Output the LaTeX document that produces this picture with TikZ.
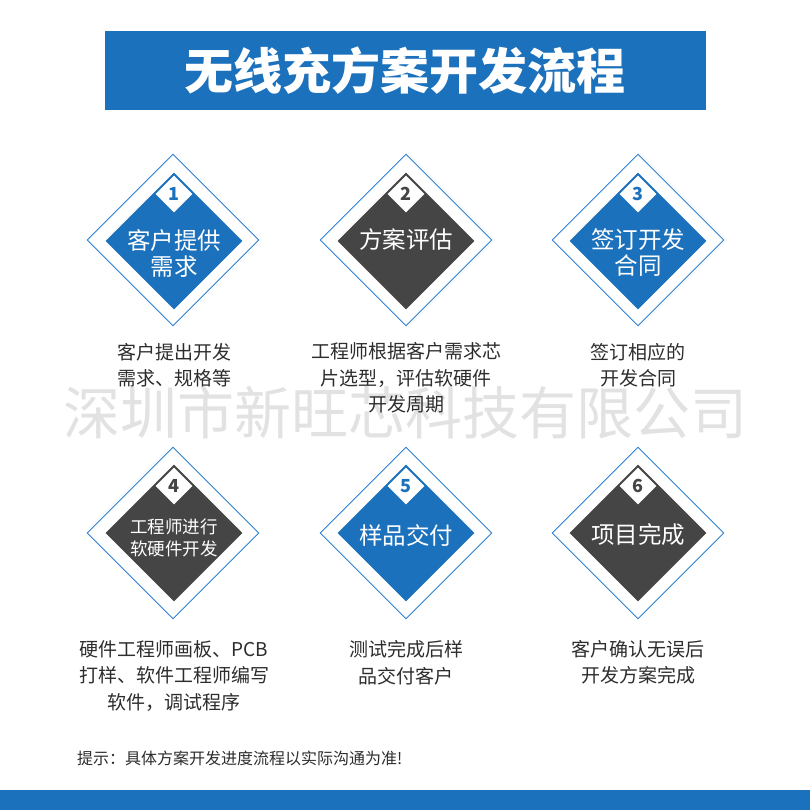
\documentclass[tikz,border=0pt]{standalone}
\usepackage{fontspec}
\setmainfont{Noto Sans CJK SC}
\usetikzlibrary{shapes.geometric}
\definecolor{mainblue}{RGB}{28,113,188}
\definecolor{darkgrey}{RGB}{69,69,69}
\definecolor{linebl}{RGB}{45,128,210}
\definecolor{txt}{RGB}{45,45,45}
\definecolor{wmark}{RGB}{226,226,226}
\begin{document}
\begin{tikzpicture}[x=1pt,y=-1pt,
  outerd/.style={diamond, draw=linebl, line width=0.9pt, minimum width=172pt, minimum height=172pt, inner sep=0pt},
  innerd/.style={diamond, minimum width=137pt, minimum height=137pt, inner sep=0pt},
  numd/.style={diamond, fill=white, minimum width=37pt, minimum height=37pt, inner sep=0pt, font=\fontsize{18}{18}\selectfont\bfseries},
  bigtext/.style={white, font=\fontsize{23.5}{26}\selectfont, align=center, inner sep=0pt},
  smalltext/.style={white, font=\fontsize{17.5}{22}\selectfont, align=center, inner sep=0pt},
  desc/.style={txt, font=\fontsize{19}{26.5}\selectfont, align=center, inner sep=0pt}]
\useasboundingbox (0,0) rectangle (810,810);
\fill[white] (0,0) rectangle (810,810);
% title
\node[fill=mainblue, minimum width=601pt, minimum height=79pt, inner sep=0pt] (titlebar) at (405.5,70.5) {};
\node[white, font=\fontsize{49}{49}\selectfont\bfseries, inner sep=0pt] (title) at (405,71) {无线充方案开发流程};
% watermark
\node[wmark, font=\fontsize{57}{57}\selectfont, inner sep=0pt] (wm) at (405,413) {深圳市新旺芯科技有限公司};
% row 1
\node[outerd] (o1) at (173,240) {};
\node[innerd, fill=mainblue] (i1) at (174,241) {};
\node[numd, text=mainblue] (n1) at (174,194) {1};
\node[bigtext] (t1) at (174,253) {客户提供\\需求};
\node[outerd] (o2) at (406,240) {};
\node[innerd, fill=darkgrey] (i2) at (406,241) {};
\node[numd, text=darkgrey] (n2) at (406,194) {2};
\node[bigtext] (t2) at (406,240) {方案评估};
\node[outerd] (o3) at (638,240) {};
\node[innerd, fill=mainblue] (i3) at (638,241) {};
\node[numd, text=mainblue] (n3) at (638,194) {3};
\node[bigtext] (t3) at (638,253) {签订开发\\合同};
% row 2
\node[outerd] (o4) at (173,533) {};
\node[innerd, fill=darkgrey] (i4) at (174,533) {};
\node[numd, text=darkgrey] (n4) at (174,486) {4};
\node[smalltext] (t4) at (174,538) {工程师进行\\软硬件开发};
\node[outerd] (o5) at (406,533) {};
\node[innerd, fill=mainblue] (i5) at (406,533) {};
\node[numd, text=mainblue] (n5) at (406,486) {5};
\node[bigtext] (t5) at (406,535) {样品交付};
\node[outerd] (o6) at (638,533) {};
\node[innerd, fill=darkgrey] (i6) at (638,533) {};
\node[numd, text=darkgrey] (n6) at (638,486) {6};
\node[bigtext] (t6) at (638,535) {项目完成};
% descriptions
\node[desc] (d1) at (174,365) {客户提出开发\\需求、规格等};
\node[desc] (d2) at (406,378) {工程师根据客户需求芯\\片选型，评估软硬件\\开发周期};
\node[desc] (d3) at (638,365) {签订相应的\\开发合同};
\node[desc] (d4) at (174,676) {硬件工程师画板、PCB\\打样、软件工程师编写\\软件，调试程序};
\node[desc] (d5) at (406,662.5) {测试完成后样\\品交付客户};
\node[desc] (d6) at (638,662.5) {客户确认无误后\\开发方案完成};
% note
\node[txt, anchor=west, font=\fontsize{16}{16}\selectfont, inner sep=0pt] (note) at (77,758) {提示：具体方案开发进度流程以实际沟通为准!};
% bottom bar
\node[fill=mainblue, minimum width=810pt, minimum height=20pt, inner sep=0pt] (bar) at (405,800) {};
\end{tikzpicture}
\end{document}
